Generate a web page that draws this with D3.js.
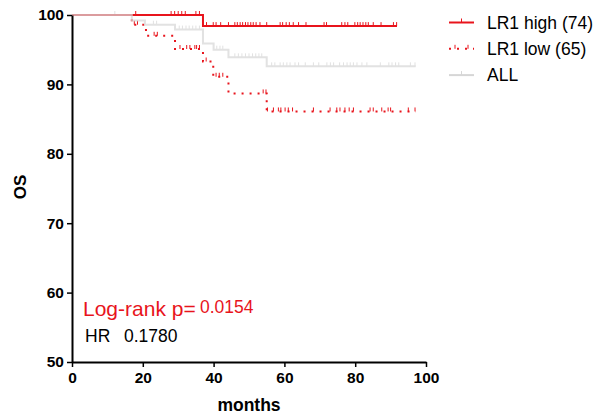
<!DOCTYPE html>
<html>
<head>
<meta charset="utf-8">
<script src="https://cdn.jsdelivr.net/npm/d3@7"></script>
<style>
  body { margin: 0; background: #fff; }
  svg { font-family: "Liberation Sans", Arial, sans-serif; }
</style>
</head>
<body>
<svg id="km" width="599" height="418"></svg>
<script>
// x ticks / y ticks
var xTicks = [0, 20, 40, 60, 80, 100];
var yTicks = [50, 60, 70, 80, 90, 100];

// LR1 high: step times and survival after each step
var highTimes = [0, 37];
var highSurv = [100, 98.4];
var highEnd = 91.8;
var highCensor = [18, 28, 29, 30, 31, 32, 35, 36, 38, 39.9, 40.7, 42, 44.2, 46, 46.7, 47.5, 48.2, 49,
    49.7, 50.5, 51.2, 52, 53.1, 55, 58.8, 59.5, 60.5, 61.4, 62.5, 64, 66.1, 71.2, 71.9, 76.2, 77.1,
    77.9, 79.9, 80.7, 81.4, 82.2, 83, 83.7, 85.1, 87.3, 90.8, 91.7];

// LR1 low
var lowTimes = [0, 16.9, 20.9, 29.1, 37, 39.9, 44.2, 55];
var lowSurv = [100, 98.6, 97.0, 95.1, 93.3, 91.1, 88.7, 86.1];
var lowEnd = 97.1;
var lowCensor = [17.6, 18.5, 23.2, 24.1, 30.5, 32.4, 33.3, 34.7, 35.2, 36, 37.9, 40.7, 41.6, 42.6,
    54, 54.8, 55.2, 56.9, 58.3, 59, 60.2, 61.1, 62.3, 68.2, 72.9, 74.8, 75.7, 77.1, 78.3, 79.5,
    84.2, 85.1, 87.5, 89.3, 90, 95, 96.9];

// ALL
var allTimes = [0, 16.9, 20.6, 29.1, 37, 40, 44.2, 55];
var allSurv = [100, 99.2, 98.6, 97.9, 95.9, 95.0, 93.9, 92.6];
var allEnd = 97.1;
var allCensor = [12.1, 23, 23.9, 30.3, 31.2, 32.2, 33.1, 34.1, 35, 36, 40.9, 41.8, 42.6, 46, 47,
    48, 49, 50, 51, 51.9, 52.8, 53.6, 56.4, 57.3, 58.8, 59.7, 60.7, 61.6, 63, 64, 65.9, 68.2, 69.7,
    72, 73, 73.9, 75.6, 76.7, 77.7, 78.6, 79.5, 80.5, 81.9, 83.3, 87.1, 89.5, 90.4, 91.4, 92.3,
    95.6, 96.9];

var legendNames = ["LR1 high (74)", "LR1 low (65)", "ALL"];

var svg = d3.select("svg#km");
var xScale = d3.scaleLinear().domain([0, 100]).range([72, 426]);
var yScale = d3.scaleLinear().domain([50, 100]).range([362, 15]);

function stepPoints(times, surv, end) {
    var pts = [];
    for (var i = 0; i < times.length; i++) {
        if (i > 0) pts.push([times[i], surv[i - 1]]);
        pts.push([times[i], surv[i]]);
    }
    pts.push([end, surv[surv.length - 1]]);
    return pts;
}

function survAt(times, surv, t) {
    var s = surv[0];
    for (var i = 0; i < times.length; i++) {
        if (times[i] <= t) s = surv[i];
    }
    return s;
}

var line = d3.line()
    .x(function(d) { return xScale(d[0]); })
    .y(function(d) { return yScale(d[1]); });

function drawCurve(times, surv, end, censor, color, width, dash, opacity) {
    var g = svg.append("g").attr("opacity", opacity);
    g.append("path")
        .datum(stepPoints(times, surv, end))
        .attr("d", line)
        .attr("fill", "none")
        .attr("stroke", color)
        .attr("stroke-width", width)
        .attr("stroke-dasharray", dash);
    g.selectAll("line.cens")
        .data(censor)
        .enter()
        .append("line")
        .attr("class", "cens")
        .attr("x1", function(d) { return xScale(d); })
        .attr("x2", function(d) { return xScale(d); })
        .attr("y1", function(d) { return yScale(survAt(times, surv, d)); })
        .attr("y2", function(d) { return yScale(survAt(times, surv, d)) - 4; })
        .attr("stroke", color)
        .attr("stroke-width", 1);
}

drawCurve(highTimes, highSurv, highEnd, highCensor, "#e8141c", 2, null, 1);
drawCurve(lowTimes, lowSurv, lowEnd, lowCensor, "#e8141c", 2, "2,6", 1);
drawCurve(allTimes, allSurv, allEnd, allCensor, "#d6d6d6", 2, null, 0.7);

// axes
var yAxis = svg.append("g")
    .attr("transform", "translate(72,0)")
    .call(d3.axisLeft(yScale).tickValues(yTicks).tickSize(5).tickSizeOuter(0).tickPadding(3));
var xAxis = svg.append("g")
    .attr("transform", "translate(0,362)")
    .call(d3.axisBottom(xScale).tickValues(xTicks).tickSize(5).tickSizeOuter(0).tickPadding(5));

[xAxis, yAxis].forEach(function(ax) {
    ax.select(".domain").attr("stroke", "#000").attr("stroke-width", 2);
    ax.selectAll(".tick line").attr("stroke", "#000").attr("stroke-width", 1.5);
    ax.selectAll(".tick text")
        .attr("fill", "#000")
        .attr("font-size", "15.5px")
        .attr("font-weight", "bold")
        .attr("font-family", "Liberation Sans, Arial, sans-serif");
});

svg.append("text")
    .attr("transform", "translate(26,187) rotate(-90)")
    .attr("text-anchor", "middle")
    .attr("font-size", "17px")
    .attr("font-weight", "bold")
    .text("OS");

svg.append("text")
    .attr("x", 249)
    .attr("y", 411)
    .attr("text-anchor", "middle")
    .attr("font-size", "17.5px")
    .attr("font-weight", "bold")
    .text("months");

// annotations
svg.append("text")
    .attr("x", 83)
    .attr("y", 316)
    .attr("font-size", "21px")
    .attr("fill", "#e8141c")
    .text("Log-rank p=");
svg.append("text")
    .attr("x", 200)
    .attr("y", 313)
    .attr("font-size", "17.5px")
    .attr("fill", "#e8141c")
    .text("0.0154");
svg.append("text")
    .attr("x", 85)
    .attr("y", 342)
    .attr("font-size", "17.5px")
    .attr("fill", "#000")
    .text("HR");
svg.append("text")
    .attr("x", 124)
    .attr("y", 342)
    .attr("font-size", "17.5px")
    .attr("fill", "#000")
    .text("0.1780");

// legend
var legendColors = ["#e8141c", "#e8141c", "#d6d6d6"];
var legendDash = [null, "2,6", null];
var legendTicks = [[461.5], [455, 468], [461.5]];
var legend = svg.selectAll(".legend_group")
    .data(legendNames)
    .enter()
    .append("g")
    .attr("class", "legend_group")
    .attr("transform", function(d, i) { return "translate(0," + (22.5 + i * 26.3) + ")"; });

legend.append("line")
    .attr("x1", 449).attr("x2", 474)
    .attr("y1", 0).attr("y2", 0)
    .attr("stroke", function(d, i) { return legendColors[i]; })
    .attr("stroke-width", 2)
    .attr("stroke-dasharray", function(d, i) { return legendDash[i]; });

legend.each(function(d, i) {
    d3.select(this).selectAll("line.lt")
        .data(legendTicks[i])
        .enter()
        .append("line")
        .attr("class", "lt")
        .attr("x1", function(t) { return t; })
        .attr("x2", function(t) { return t; })
        .attr("y1", 0).attr("y2", -4)
        .attr("stroke", legendColors[i])
        .attr("stroke-width", 1);
});

legend.append("text")
    .attr("x", 487)
    .attr("y", 6)
    .attr("font-size", "17.5px")
    .attr("fill", "#000")
    .text(function(d) { return d; });
</script>
</body>
</html>
